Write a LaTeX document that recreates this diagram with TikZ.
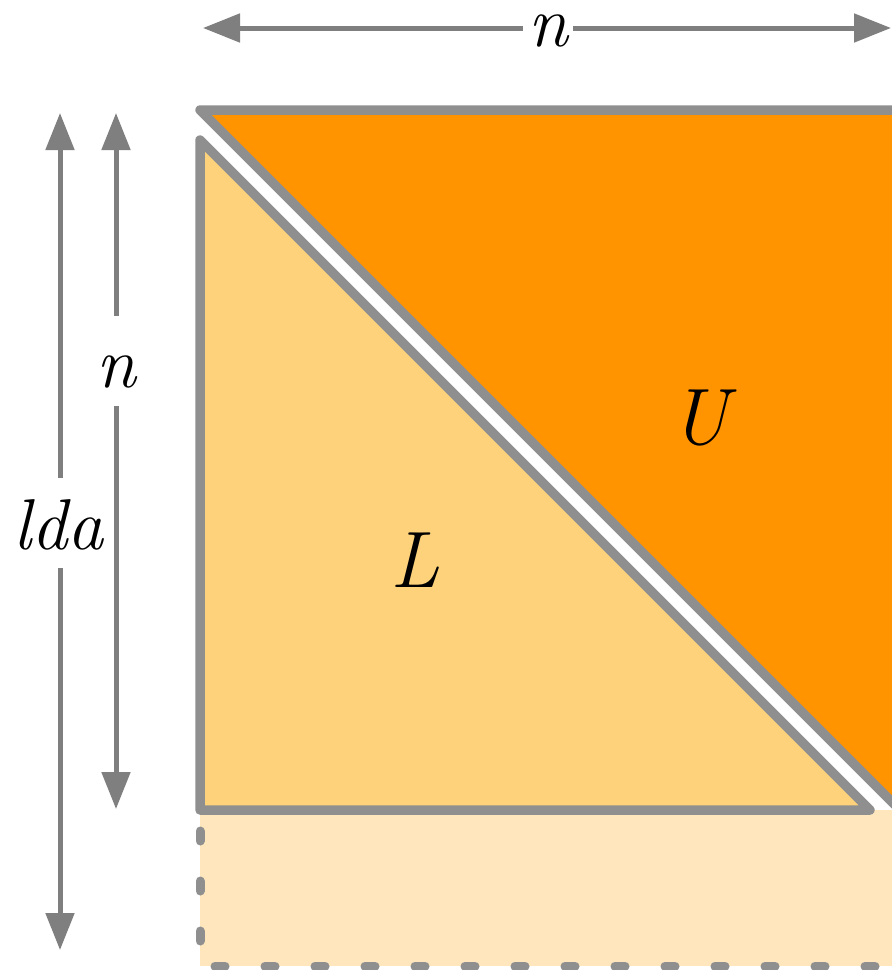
\documentclass[tikz,border=0pt]{standalone}
\usetikzlibrary{arrows.meta}
\definecolor{uorange}{HTML}{FF9300}
\definecolor{lyellow}{HTML}{FDD27B}
\definecolor{pale}{HTML}{FFE6BC}
\definecolor{edgegray}{HTML}{8F8F8F}
\definecolor{arrowgray}{HTML}{7F7F7F}
\tikzset{
  edgeline/.style={draw=edgegray, line width=9.5pt, line join=round, line cap=round},
  dimarrow/.style={draw=arrowgray, line width=5pt, {Triangle[width=28pt,length=37pt]}-{Triangle[width=28pt,length=37pt]}},
  dimlabel/.style={fill=white, inner xsep=4pt, inner ysep=1pt, text height=70pt, text depth=18pt, font=\fontsize{72}{80}\selectfont\itshape},
  toplabel/.style={fill=white, inner xsep=5pt, inner ysep=1pt, text height=34pt, text depth=4pt, font=\fontsize{72}{80}\selectfont\itshape},
  biglabel/.style={inner sep=0pt, font=\fontsize{80}{88}\selectfont\itshape}
}
\begin{document}
\begin{tikzpicture}[x=1pt,y=-1pt]
\clip (0,0) rectangle (892,970);
\fill[white] (0,0) rectangle (892,970);
% pale padding region
\fill[pale] (200,810) rectangle (900,966);
\draw[draw=edgegray, line width=9pt, line cap=round, dash pattern=on 10pt off 40pt, dash phase=29pt]
  (200,810) -- (200,966) -- (900,966);
% U triangle
\filldraw[fill=uorange, edgeline] (200,110) -- (900,110) -- (900,810) -- cycle;
% L triangle
\filldraw[fill=lyellow, edgeline] (200,140) -- (200,810) -- (870,810) -- cycle;
% labels inside
\node[biglabel, anchor=base] (ulab) at (700,444) {U};
\node[biglabel, anchor=base] (llab) at (415,587) {L};
% dimension arrows
\coordinate (tl) at (203,28);
\coordinate (tr) at (891,28);
\coordinate (at) at (60,113);
\coordinate (ab) at (60,950);
\coordinate (nt) at (116,113);
\coordinate (nb) at (116,809);
\draw[dimarrow] (tl) -- (tr);
\draw[dimarrow] (at) -- (ab);
\draw[dimarrow] (nt) -- (nb);
\node[toplabel, anchor=base] (ntop) at (548,46) {n};
\node[dimlabel, anchor=base] (lda) at (58,549) {lda};
\node[dimlabel, anchor=base] (nleft) at (116,387) {n};
\end{tikzpicture}
\end{document}
